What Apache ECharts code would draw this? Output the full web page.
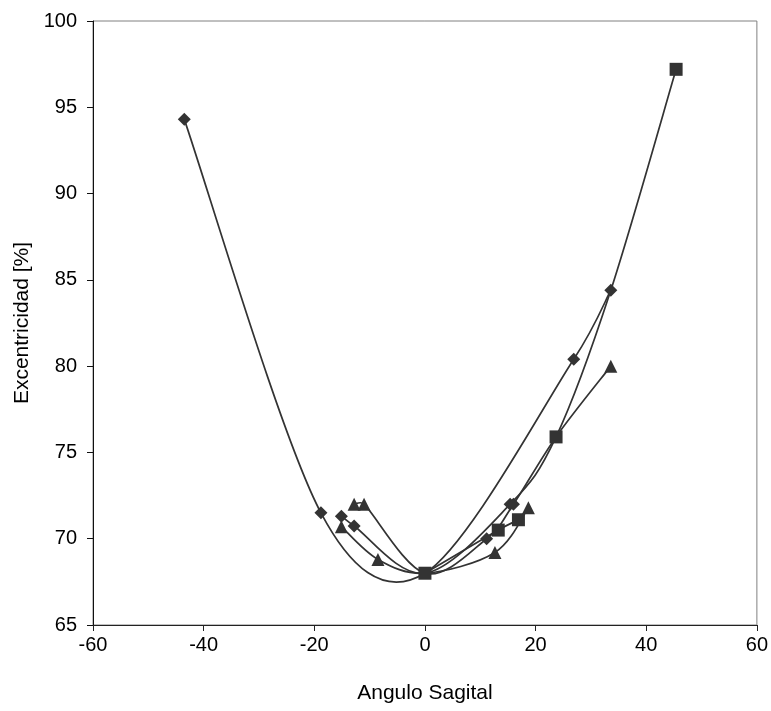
<!DOCTYPE html>
<html>
<head>
<meta charset="utf-8">
<script src="https://cdn.jsdelivr.net/npm/echarts@6/dist/echarts.min.js"></script>
<style>html,body{margin:0;padding:0;background:#fff}#c{width:771px;height:711px}</style>
</head>
<body>
<div id="c"></div>
<script>
// Smooth lines (each passes through the common point 0,68)
var line1 = [[-43.5,94.3],[-18.8,71.5],[0,68],[26.9,80.4],[33.6,84.4]];
var line2 = [[-15.1,71.3],[-12.8,70.74],[0,68],[15.4,72.0],[23.7,75.9],[33.6,84.4],[45.4,97.2]];
var line3 = [[-15.1,70.7],[-8.5,68.8],[0,68],[12.65,69.2],[18.7,71.8]];
var line4 = [[-12.8,72.0],[-11.0,72.0],[0,68],[11.15,70.0],[16.0,72.0],[23.7,75.9],[33.6,80.0]];
var line5 = [[0,68],[13.25,70.5],[16.9,71.1]];
// Marker sets
var diamonds = [[-43.5,94.3],[-18.8,71.5],[-15.1,71.3],[-12.8,70.74],[11.15,70.0],[15.4,72.0],[16.0,72.0],[26.9,80.4],[33.6,84.4]];
var triangles = [[-15.1,70.7],[-12.8,72.0],[-11.0,72.0],[-8.5,68.8],[12.65,69.2],[18.7,71.8],[33.6,80.0]];
var squares = [[0,68],[13.25,70.5],[16.9,71.1],[23.7,75.9],[45.4,97.2]];

var C = '#333333';
var FONT = '"Liberation Sans", Arial, sans-serif';

// Excel-like smoothed line drawn through the chart's own coordinate system
function smoothSeries(pts){
  return {
    type:'custom', data:pts, silent:true, animation:false, z:2,
    encode:{x:0, y:1},
    renderItem:function(params, api){
      if (params.dataIndex !== 0) return null;
      var P = pts.map(function(p){ return api.coord(p); });
      var n = P.length;
      function d(a,b){ return Math.sqrt((a[0]-b[0])*(a[0]-b[0])+(a[1]-b[1])*(a[1]-b[1])); }
      var path = 'M' + P[0][0] + ' ' + P[0][1];
      for (var i=0;i<n-1;i++){
        var p0 = i>0 ? P[i-1] : P[i];
        var p1 = P[i], p2 = P[i+1];
        var p3 = i+2<n ? P[i+2] : P[i+1];
        var d12 = d(p1,p2), d02 = d(p0,p2), d13 = d(p1,p3);
        var f0 = 1/6, f1 = 1/6;
        if (d02/6 >= d12/2 && d02>0) f0 = d12/d02/2;
        if (d13/6 >= d12/2 && d13>0) f1 = d12/d13/2;
        var c1 = [p1[0] + (p2[0]-p0[0])*f0, p1[1] + (p2[1]-p0[1])*f0];
        var c2 = [p2[0] - (p3[0]-p1[0])*f1, p2[1] - (p3[1]-p1[1])*f1];
        path += ' C' + c1[0] + ' ' + c1[1] + ' ' + c2[0] + ' ' + c2[1] + ' ' + p2[0] + ' ' + p2[1];
      }
      return {type:'path', shape:{pathData:path}, style:{fill:null, stroke:C, lineWidth:1.7}};
    }
  };
}
function markSeries(d, sym, size){
  return {type:'scatter', data:d, symbol:sym, symbolSize:size,
    itemStyle:{color:C, opacity:1}, silent:true, animation:false, z:3};
}
var chart = echarts.init(document.getElementById('c'), null, {renderer:'canvas'});
chart.setOption({
  animation:false,
  grid:{left:93, right:14, top:21, bottom:86, show:true, borderColor:'#808080', borderWidth:1, backgroundColor:'transparent'},
  xAxis:{type:'value', min:-60, max:60, interval:20,
    name:'Angulo Sagital', nameLocation:'middle', nameGap:58,
    nameTextStyle:{color:'#000', fontSize:21, fontFamily:FONT},
    axisLine:{show:true, onZero:false, lineStyle:{color:'#222', width:1}},
    axisTick:{show:true, inside:false, length:6, lineStyle:{color:'#222'}},
    axisLabel:{color:'#000', fontSize:20, fontFamily:FONT, margin:10},
    splitLine:{show:false}},
  yAxis:{type:'value', min:65, max:100, interval:5,
    name:'Excentricidad [%]', nameLocation:'middle', nameGap:56,
    nameTextStyle:{color:'#000', fontSize:21, fontFamily:FONT},
    axisLine:{show:true, onZero:false, lineStyle:{color:'#111', width:1}},
    axisTick:{show:true, inside:false, length:6, lineStyle:{color:'#111'}},
    axisLabel:{color:'#000', fontSize:20, fontFamily:FONT, margin:16},
    splitLine:{show:false}},
  series:[
    smoothSeries(line1), smoothSeries(line2), smoothSeries(line3), smoothSeries(line4), smoothSeries(line5),
    markSeries(diamonds, 'diamond', 13),
    markSeries(triangles, 'triangle', 13),
    markSeries(squares, 'rect', 13)
  ]
});
</script>
</body>
</html>
